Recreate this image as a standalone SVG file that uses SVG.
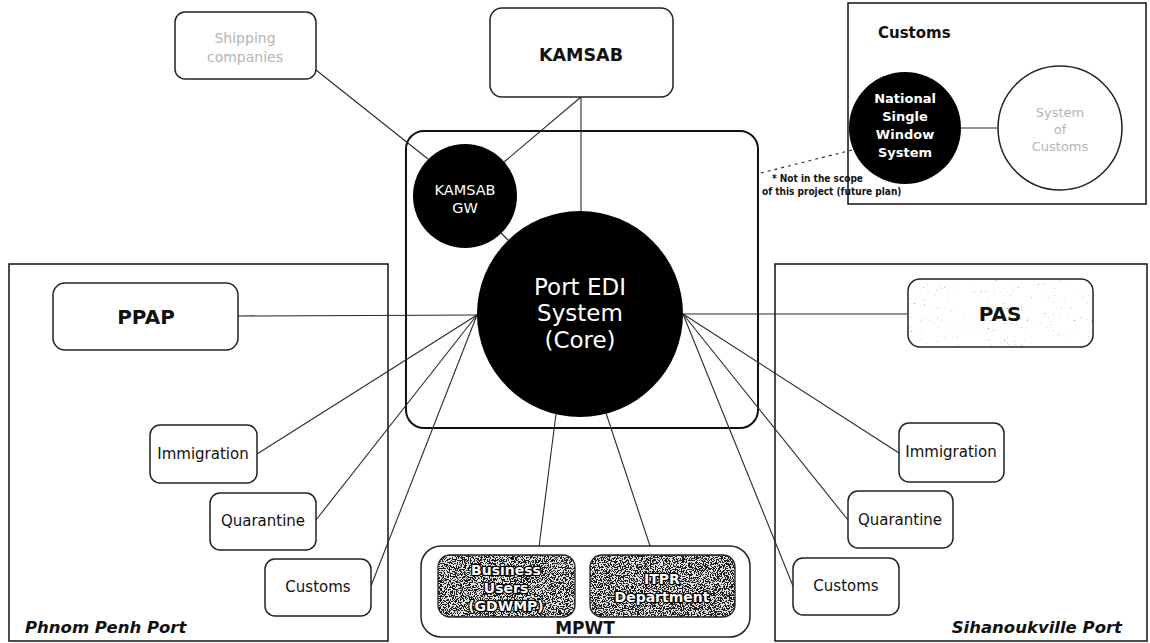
<svg xmlns="http://www.w3.org/2000/svg" width="1150" height="643" viewBox="0 0 1150 643">
  <style>
    .panel { fill: none; stroke: #111; stroke-width: 1.5; }
    .box { fill: #fff; stroke: #222; stroke-width: 1.5; }
    .dark { fill: #000; }
    .conn line { stroke: #2a2a2a; stroke-width: 1.1; fill: none; }
    .t { font-family: "DejaVu Sans", "Liberation Sans", sans-serif; text-anchor: middle; fill: #111; }
    .start { text-anchor: start; }
    .b { font-weight: bold; }
    .w { fill: #fff; }
    .faint { fill: #b4b4b4; }
    .port { font-family: "DejaVu Sans", "Liberation Sans", sans-serif; font-weight: bold; font-style: italic; font-size: 16.5px; fill: #111; }
    .grain-text { fill: #fff; stroke: #000; stroke-width: 2.4; stroke-linejoin: round; paint-order: stroke; }
    .note { font-family: "DejaVu Sans Condensed", "DejaVu Sans", sans-serif; font-weight: bold; font-size: 10px; fill: #111; }
  </style>
  <defs>
    <!-- coarse grey speckle used by the MPWT units -->
    <filter id="grain" x="0" y="0" width="100%" height="100%" color-interpolation-filters="sRGB">
      <feTurbulence type="fractalNoise" baseFrequency="0.85" numOctaves="2" seed="7" result="n"/>
      <feColorMatrix in="n" type="matrix" values="1 0 0 0 0  1 0 0 0 0  1 0 0 0 0  0 0 0 0 1" result="g"/>
      <feComponentTransfer in="g" result="bw">
        <feFuncR type="discrete" tableValues="0.12 0.12 0.12 0.12 0.12 0.88 0.88 0.88 0.88 0.88"/>
        <feFuncG type="discrete" tableValues="0.12 0.12 0.12 0.12 0.12 0.88 0.88 0.88 0.88 0.88"/>
        <feFuncB type="discrete" tableValues="0.12 0.12 0.12 0.12 0.12 0.88 0.88 0.88 0.88 0.88"/>
      </feComponentTransfer>
      <feComposite in="bw" in2="SourceGraphic" operator="in"/>
    </filter>
    <!-- sparse light dots -->
    <filter id="speckle" x="0" y="0" width="100%" height="100%" color-interpolation-filters="sRGB">
      <feTurbulence type="fractalNoise" baseFrequency="0.7" numOctaves="2" seed="3" result="n"/>
      <feColorMatrix in="n" type="matrix" values="0 0 0 0 0.6  0 0 0 0 0.6  0 0 0 0 0.6  -9 0 0 0 2.35" result="d"/>
      <feComposite in="d" in2="SourceGraphic" operator="in"/>
    </filter>
  </defs>

  <!-- regional panels -->
  <g id="phnom-penh-port">
    <rect class="panel" x="9" y="264" width="379" height="377"/>
    <text class="port" x="25" y="633">Phnom Penh Port</text>
  </g>
  <g id="sihanoukville-port">
    <rect class="panel" x="775" y="264" width="372" height="377"/>
    <text class="port" x="1122" y="633" text-anchor="end">Sihanoukville Port</text>
  </g>
  <g id="customs-domain">
    <rect class="panel" x="848" y="3" width="298" height="201"/>
    <text class="t b start" x="878" y="38" font-size="15">Customs</text>
  </g>
  <g id="core-frame">
    <rect x="406" y="131" width="352" height="297" rx="18" fill="none" stroke="#111" stroke-width="2"/>
  </g>

  <!-- connectors -->
  <g id="connectors" class="conn">
    <line x1="316" y1="70" x2="428" y2="159"/>
    <line x1="581" y1="97" x2="504" y2="162"/>
    <line x1="581" y1="97" x2="581" y2="211"/>
    <line x1="501" y1="233" x2="508" y2="240"/>
    <line x1="477" y1="315" x2="238" y2="316"/>
    <line x1="477" y1="315" x2="257" y2="454"/>
    <line x1="477" y1="315" x2="316" y2="520"/>
    <line x1="477" y1="315" x2="371" y2="586"/>
    <line x1="683" y1="314" x2="907" y2="314"/>
    <line x1="683" y1="314" x2="899" y2="453"/>
    <line x1="683" y1="314" x2="848" y2="520"/>
    <line x1="683" y1="314" x2="793" y2="586"/>
    <line x1="556" y1="414" x2="538" y2="555"/>
    <line x1="606" y1="413" x2="653" y2="555"/>
    <line x1="961" y1="128" x2="998" y2="128"/>
    <line x1="852" y1="150" x2="757" y2="174" stroke-dasharray="3 4"/>
  </g>

  <!-- external partners -->
  <g id="shipping-companies">
    <rect class="box" x="175" y="12" width="141" height="67" rx="10"/>
    <text class="t faint" x="245" y="43" font-size="14">Shipping</text>
    <text class="t faint" x="245" y="62" font-size="14">companies</text>
  </g>
  <g id="kamsab">
    <rect class="box" x="490" y="8" width="183" height="89" rx="12"/>
    <text class="t b" x="581" y="61" font-size="17.5">KAMSAB</text>
  </g>

  <!-- core systems -->
  <g id="kamsab-gw">
    <circle class="dark" cx="465" cy="196" r="52"/>
    <text class="t w" x="465" y="195" font-size="14.5">KAMSAB</text>
    <text class="t w" x="465" y="213" font-size="14.5">GW</text>
  </g>
  <g id="port-edi-core">
    <circle class="dark" cx="580" cy="314" r="103"/>
    <text class="t w" x="580" y="295" font-size="23">Port EDI</text>
    <text class="t w" x="580" y="321" font-size="23">System</text>
    <text class="t w" x="580" y="348" font-size="23">(Core)</text>
  </g>

  <!-- customs systems -->
  <g id="national-single-window">
    <circle class="dark" cx="905" cy="128" r="56"/>
    <text class="t b w" x="905" y="103" font-size="13">National</text>
    <text class="t b w" x="905" y="121" font-size="13">Single</text>
    <text class="t b w" x="905" y="139" font-size="13">Window</text>
    <text class="t b w" x="905" y="157" font-size="13">System</text>
  </g>
  <g id="customs-system">
    <circle cx="1060" cy="128" r="62" fill="#fff" stroke="#222" stroke-width="1.5"/>
    <text class="t faint" x="1060" y="117" font-size="13">System</text>
    <text class="t faint" x="1060" y="134" font-size="13">of</text>
    <text class="t faint" x="1060" y="151" font-size="13">Customs</text>
  </g>
  <g id="scope-note">
    <text class="note" x="772" y="182">* Not in the scope</text>
    <text class="note" x="762" y="195">of this project (future plan)</text>
  </g>

  <!-- Phnom Penh side -->
  <g id="ppap">
    <rect class="box" x="53" y="283" width="185" height="67" rx="12"/>
    <text class="t b" x="146" y="324" font-size="20">PPAP</text>
  </g>
  <g id="immigration-pp">
    <rect class="box" x="150" y="425" width="107" height="58" rx="10"/>
    <text class="t" x="203" y="459" font-size="15">Immigration</text>
  </g>
  <g id="quarantine-pp">
    <rect class="box" x="210" y="493" width="106" height="57" rx="10"/>
    <text class="t" x="263" y="526" font-size="15">Quarantine</text>
  </g>
  <g id="customs-pp">
    <rect class="box" x="265" y="559" width="106" height="57" rx="10"/>
    <text class="t" x="318" y="592" font-size="15">Customs</text>
  </g>

  <!-- Sihanoukville side -->
  <g id="pas">
    <rect class="box" x="908" y="279" width="185" height="68" rx="12"/>
    <rect x="909" y="280" width="183" height="66" rx="11" fill="#fff" filter="url(#speckle)"/>
    <text class="t b" x="1000" y="321" font-size="20">PAS</text>
  </g>
  <g id="immigration-sv">
    <rect class="box" x="899" y="423" width="105" height="59" rx="10"/>
    <text class="t" x="951" y="457" font-size="15">Immigration</text>
  </g>
  <g id="quarantine-sv">
    <rect class="box" x="848" y="491" width="105" height="57" rx="10"/>
    <text class="t" x="900" y="525" font-size="15">Quarantine</text>
  </g>
  <g id="customs-sv">
    <rect class="box" x="793" y="558" width="106" height="57" rx="10"/>
    <text class="t" x="846" y="591" font-size="15">Customs</text>
  </g>

  <!-- MPWT -->
  <g id="mpwt">
    <rect class="box" x="421" y="546" width="329" height="91" rx="20"/>
    <text class="t b" x="585" y="634" font-size="17">MPWT</text>
  </g>
  <g id="business-users">
    <rect x="438" y="555" width="137" height="62" rx="12" fill="#fff" filter="url(#grain)"/>
    <rect x="438" y="555" width="137" height="62" rx="12" fill="none" stroke="#222" stroke-width="1.3"/>
    <text class="t b grain-text" x="506" y="575" font-size="14">Business</text>
    <text class="t b grain-text" x="506" y="593" font-size="14">Users</text>
    <text class="t b grain-text" x="506" y="611" font-size="14">(GDWMP)</text>
  </g>
  <g id="itpr-department">
    <rect x="590" y="555" width="145" height="62" rx="12" fill="#fff" filter="url(#grain)"/>
    <rect x="590" y="555" width="145" height="62" rx="12" fill="none" stroke="#222" stroke-width="1.3"/>
    <text class="t b grain-text" x="662" y="584" font-size="14">ITPR</text>
    <text class="t b grain-text" x="662" y="602" font-size="14">Department</text>
  </g>
</svg>
